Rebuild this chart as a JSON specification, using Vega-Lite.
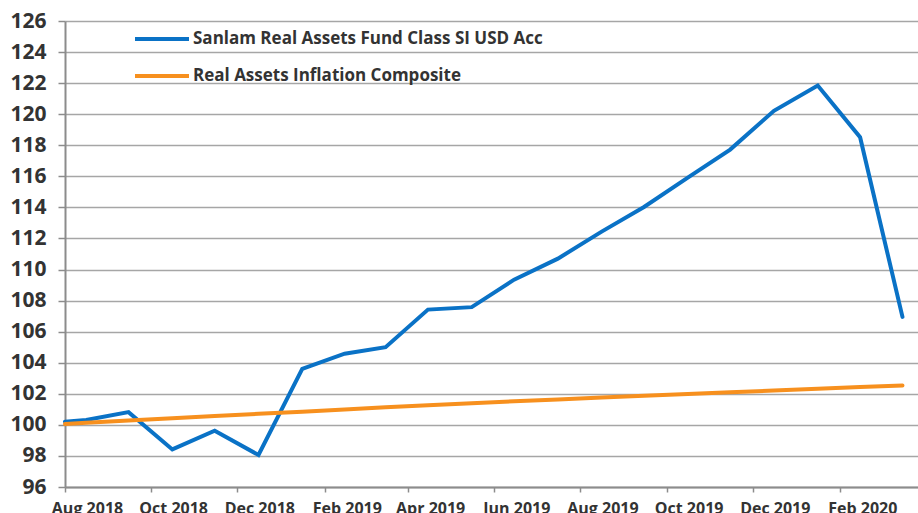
{
  "$schema": "https://vega.github.io/schema/vega-lite/v6.json",
  "width": 853,
  "height": 466,
  "autosize": {"type": "none"},
  "padding": {"left": 65, "top": 21, "right": 0, "bottom": 26},
  "background": "white",
  "config": {"view": {"stroke": null}, "font": "Open Sans"},
  "data": {"values": [
    {"date": "2018-08-01", "series": "Sanlam Real Assets Fund Class SI USD Acc", "value": 100.2},
    {"date": "2018-08-16", "series": "Sanlam Real Assets Fund Class SI USD Acc", "value": 100.32},
    {"date": "2018-09-15", "series": "Sanlam Real Assets Fund Class SI USD Acc", "value": 100.82},
    {"date": "2018-10-16", "series": "Sanlam Real Assets Fund Class SI USD Acc", "value": 98.42},
    {"date": "2018-11-15", "series": "Sanlam Real Assets Fund Class SI USD Acc", "value": 99.62},
    {"date": "2018-12-16", "series": "Sanlam Real Assets Fund Class SI USD Acc", "value": 98.06},
    {"date": "2019-01-16", "series": "Sanlam Real Assets Fund Class SI USD Acc", "value": 103.6},
    {"date": "2019-02-15", "series": "Sanlam Real Assets Fund Class SI USD Acc", "value": 104.58},
    {"date": "2019-03-16", "series": "Sanlam Real Assets Fund Class SI USD Acc", "value": 105.0},
    {"date": "2019-04-15", "series": "Sanlam Real Assets Fund Class SI USD Acc", "value": 107.42},
    {"date": "2019-05-16", "series": "Sanlam Real Assets Fund Class SI USD Acc", "value": 107.58},
    {"date": "2019-06-15", "series": "Sanlam Real Assets Fund Class SI USD Acc", "value": 109.35},
    {"date": "2019-07-16", "series": "Sanlam Real Assets Fund Class SI USD Acc", "value": 110.7},
    {"date": "2019-08-16", "series": "Sanlam Real Assets Fund Class SI USD Acc", "value": 112.44},
    {"date": "2019-09-15", "series": "Sanlam Real Assets Fund Class SI USD Acc", "value": 114.03},
    {"date": "2019-10-16", "series": "Sanlam Real Assets Fund Class SI USD Acc", "value": 115.92},
    {"date": "2019-11-15", "series": "Sanlam Real Assets Fund Class SI USD Acc", "value": 117.72},
    {"date": "2019-12-16", "series": "Sanlam Real Assets Fund Class SI USD Acc", "value": 120.22},
    {"date": "2020-01-16", "series": "Sanlam Real Assets Fund Class SI USD Acc", "value": 121.85},
    {"date": "2020-02-15", "series": "Sanlam Real Assets Fund Class SI USD Acc", "value": 118.52},
    {"date": "2020-03-16", "series": "Sanlam Real Assets Fund Class SI USD Acc", "value": 106.95},
    {"date": "2018-08-01", "series": "Real Assets Inflation Composite", "value": 100.06},
    {"date": "2018-08-16", "series": "Real Assets Inflation Composite", "value": 100.13},
    {"date": "2018-09-15", "series": "Real Assets Inflation Composite", "value": 100.28},
    {"date": "2018-10-16", "series": "Real Assets Inflation Composite", "value": 100.42},
    {"date": "2018-11-15", "series": "Real Assets Inflation Composite", "value": 100.57},
    {"date": "2018-12-16", "series": "Real Assets Inflation Composite", "value": 100.71},
    {"date": "2019-01-16", "series": "Real Assets Inflation Composite", "value": 100.85},
    {"date": "2019-02-15", "series": "Real Assets Inflation Composite", "value": 100.99},
    {"date": "2019-03-16", "series": "Real Assets Inflation Composite", "value": 101.13},
    {"date": "2019-04-15", "series": "Real Assets Inflation Composite", "value": 101.26},
    {"date": "2019-05-16", "series": "Real Assets Inflation Composite", "value": 101.39},
    {"date": "2019-06-15", "series": "Real Assets Inflation Composite", "value": 101.52},
    {"date": "2019-07-16", "series": "Real Assets Inflation Composite", "value": 101.64},
    {"date": "2019-08-16", "series": "Real Assets Inflation Composite", "value": 101.76},
    {"date": "2019-09-15", "series": "Real Assets Inflation Composite", "value": 101.88},
    {"date": "2019-10-16", "series": "Real Assets Inflation Composite", "value": 101.99},
    {"date": "2019-11-15", "series": "Real Assets Inflation Composite", "value": 102.1},
    {"date": "2019-12-16", "series": "Real Assets Inflation Composite", "value": 102.21},
    {"date": "2020-01-16", "series": "Real Assets Inflation Composite", "value": 102.32},
    {"date": "2020-02-15", "series": "Real Assets Inflation Composite", "value": 102.43},
    {"date": "2020-03-16", "series": "Real Assets Inflation Composite", "value": 102.54}
  ]},
  "mark": {"type": "line", "strokeWidth": 4, "strokeJoin": "miter", "strokeCap": "round"},
  "encoding": {
    "x": {
      "field": "date",
      "type": "temporal",
      "scale": {
        "type": "utc",
        "domain": [
          {"year": 2018, "month": 8, "date": 1, "utc": true},
          {"year": 2020, "month": 3, "date": 27, "utc": true}
        ]
      },
      "axis": {
        "title": null,
        "format": "%b %Y",
        "values": [
          {"year": 2018, "month": 8, "date": 1, "utc": true},
          {"year": 2018, "month": 10, "date": 1, "utc": true},
          {"year": 2018, "month": 12, "date": 1, "utc": true},
          {"year": 2019, "month": 2, "date": 1, "utc": true},
          {"year": 2019, "month": 4, "date": 1, "utc": true},
          {"year": 2019, "month": 6, "date": 1, "utc": true},
          {"year": 2019, "month": 8, "date": 1, "utc": true},
          {"year": 2019, "month": 10, "date": 1, "utc": true},
          {"year": 2019, "month": 12, "date": 1, "utc": true},
          {"year": 2020, "month": 2, "date": 1, "utc": true}
        ],
        "grid": false,
        "domainColor": "#8c8c8c",
        "domainWidth": 2,
        "tickColor": "#8c8c8c",
        "tickWidth": 1.5,
        "tickSize": 5,
        "labelOffset": 22,
        "labelPadding": 8,
        "labelFlush": false,
        "labelOverlap": false,
        "labelFont": "Open Sans",
        "labelFontSize": 16,
        "labelFontWeight": "bold",
        "labelColor": "#333333"
      }
    },
    "y": {
      "field": "value",
      "type": "quantitative",
      "scale": {"domain": [96, 126], "nice": false, "zero": false},
      "axis": {
        "title": null,
        "values": [96, 98, 100, 102, 104, 106, 108, 110, 112, 114, 116, 118, 120, 122, 124, 126],
        "grid": true,
        "gridColor": "#a6a6a6",
        "gridWidth": 1.5,
        "domainColor": "#8c8c8c",
        "domainWidth": 2,
        "tickColor": "#8c8c8c",
        "tickWidth": 1.5,
        "tickSize": 7,
        "labelPadding": 12,
        "labelFont": "Open Sans",
        "labelFontSize": 21,
        "labelFontWeight": "bold",
        "labelColor": "#333333"
      }
    },
    "color": {
      "field": "series",
      "type": "nominal",
      "sort": ["Sanlam Real Assets Fund Class SI USD Acc", "Real Assets Inflation Composite"],
      "scale": {
        "domain": ["Sanlam Real Assets Fund Class SI USD Acc", "Real Assets Inflation Composite"],
        "range": ["#0a72c6", "#f7901e"]
      },
      "legend": {
        "title": null,
        "orient": "none",
        "legendX": 68,
        "legendY": -11,
        "symbolType": "stroke",
        "symbolSize": 2916,
        "symbolStrokeWidth": 4,
        "labelOffset": 2,
        "labelFont": "Open Sans",
        "labelFontSize": 17,
        "labelFontWeight": "bold",
        "labelColor": "#333333",
        "labelLimit": 600,
        "rowPadding": -2
      }
    }
  }
}
